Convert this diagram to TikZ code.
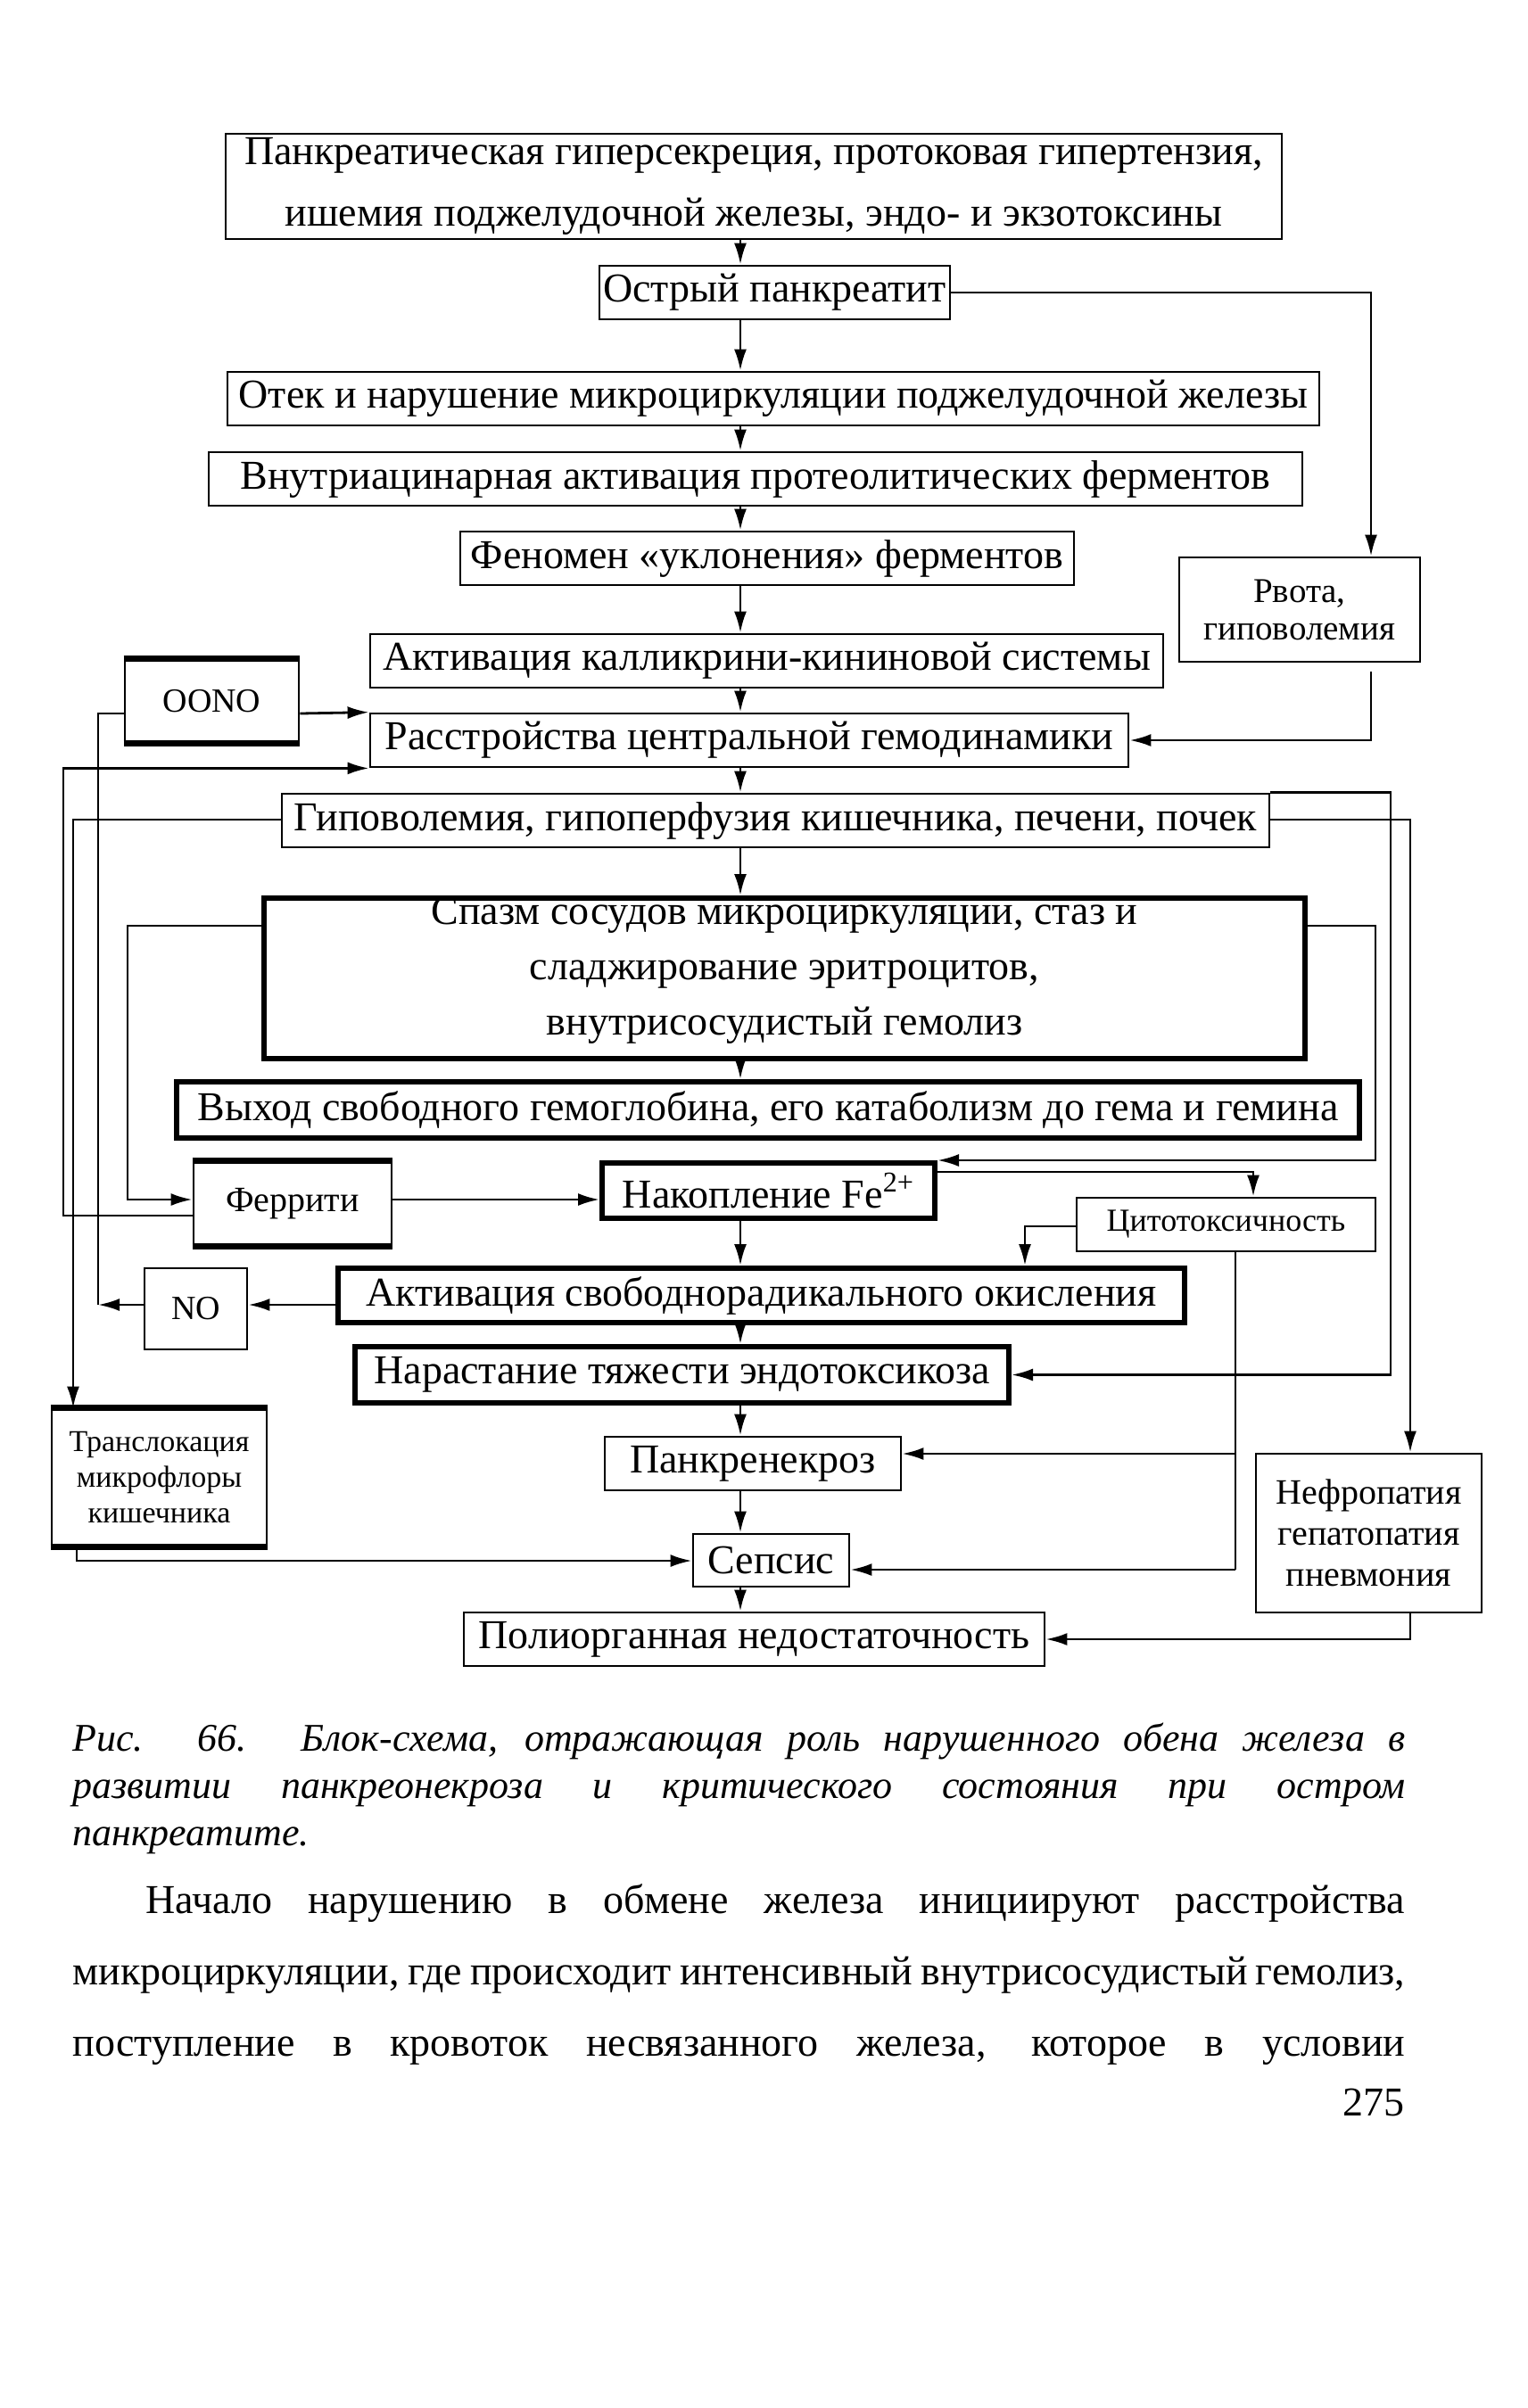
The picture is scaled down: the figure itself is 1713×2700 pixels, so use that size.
\documentclass[tikz,border=0pt]{standalone}
\usepackage{fontspec}
\setmainfont{Liberation Serif}
\usetikzlibrary{arrows.meta}
\newcommand\Bx[7]{%
  \pgfmathsetmacro\bxcx{(#3+#5)/2}\pgfmathsetmacro\bxcy{(#4+#6)/2}%
  \pgfmathsetmacro\bxw{(#5-#3)*0.5}\pgfmathsetmacro\bxh{(#6-#4)*0.5}%
  \node[#1, minimum width=\bxw pt, minimum height=\bxh pt] (#2) at (\bxcx,\bxcy) {#7};}
\newcommand\jline[1]{\makebox[747pt][s]{#1}}
\begin{document}
\begin{tikzpicture}[x=0.5pt,y=-0.5pt,
  box/.style={draw, line width=1.4pt, inner sep=0pt, align=center, font=\fontsize{23}{30}\selectfont},
  tbox/.style={box, line width=3pt},
  sbox/.style={box, font=\fontsize{19.5}{21}\selectfont},
  heavy/.style={line width=3.2pt},
  ln/.style={line width=1.4pt},
  arr/.style={line width=1.4pt, -{Latex[length=12pt,width=7pt]}}]
\fill[white] (0,0) rectangle (1713,2700);
\useasboundingbox (0,0) rectangle (1713,2700);
% boxes
\Bx{box, font=\fontsize{23}{34.5}\selectfont}{top}{253}{150}{1437}{268}{Панкреатическая гиперсекреция, протоковая гипертензия,\\ ишемия поджелудочной железы, эндо- и экзотоксины}
\Bx{box}{ostry}{672}{298}{1065}{358}{Острый панкреатит}
\Bx{box}{otek}{255}{417}{1479}{477}{Отек и нарушение микроциркуляции поджелудочной железы}
\Bx{box}{vnutr}{234}{507}{1460}{567}{Внутриацинарная активация протеолитических ферментов}
\Bx{box}{fenomen}{516}{596}{1204}{656}{Феномен «уклонения» ферментов}
\Bx{sbox}{rvota}{1322}{625}{1592}{742}{Рвота,\\ гиповолемия}
\Bx{box}{kalli}{415}{711}{1304}{771}{Активация калликрини-кининовой системы}
\Bx{sbox, font=\fontsize{19}{21}\selectfont}{oono}{140}{740}{335}{832}{OONO}
\Bx{box}{rasstr}{415}{800}{1265}{860}{Расстройства центральной гемодинамики}
\Bx{box}{gipo}{316}{890}{1423}{950}{Гиповолемия, гипоперфузия кишечника, печени, почек}
\Bx{tbox}{spazm}{296}{1007}{1463}{1187}{}
\node[align=center, inner sep=0pt, font=\fontsize{23}{31}\selectfont] (spazmtxt) at ([yshift=4.5pt]spazm.center) {Спазм сосудов микроциркуляции, стаз и\\ сладжирование эритроцитов,\\ внутрисосудистый гемолиз};
\Bx{tbox}{vyhod}{198}{1213}{1524}{1276}{Выход свободного гемоглобина, его катаболизм до гема и гемина}
\Bx{sbox, font=\fontsize{20}{21}\selectfont}{ferr}{217}{1303}{439}{1396}{Феррити}
\Bx{tbox}{nakop}{675}{1304}{1048}{1366}{Накопление Fe\textsuperscript{2+}}
\Bx{sbox, font=\fontsize{18}{21}\selectfont}{cyto}{1207}{1343}{1542}{1403}{Цитотоксичность}
\Bx{tbox}{aktsv}{379}{1422}{1328}{1483}{Активация свободнорадикального окисления}
\Bx{sbox, font=\fontsize{19}{21}\selectfont}{no}{162}{1422}{277}{1513}{NO}
\Bx{tbox}{narast}{398}{1510}{1131}{1573}{Нарастание тяжести эндотоксикоза}
\Bx{sbox, font=\fontsize{17}{20}\selectfont}{transl}{58}{1580}{299}{1733}{Транслокация\\ микрофлоры\\ кишечника}
\Bx{box}{pankr}{678}{1611}{1010}{1671}{Панкренекроз}
\Bx{sbox, font=\fontsize{20}{23}\selectfont}{nefro}{1408}{1630}{1661}{1808}{Нефропатия\\ гепатопатия\\ пневмония}
\Bx{box}{sepsis}{777}{1720}{952}{1779}{Сепсис}
\Bx{box}{poly}{520}{1808}{1171}{1868}{Полиорганная недостаточность}
% heavy top/bottom edges
\foreach \n in {oono,ferr,transl}{
  \draw[heavy] (\n.north west) -- (\n.north east);
  \draw[heavy] (\n.south west) -- (\n.south east);}
% coordinates
\coordinate (ax) at (830,0);
\coordinate (xr1) at (1537,0);
\coordinate (xr2) at (1559,0);
\coordinate (xr3) at (1581,0);
\coordinate (xr4) at (1542,0);
\coordinate (xc1) at (1405,0);
\coordinate (xc2) at (1149,0);
\coordinate (xc3) at (1385,0);
\coordinate (xl1) at (71,0);
\coordinate (xl2) at (82,0);
\coordinate (xl3) at (110,0);
\coordinate (xl4) at (143,0);
\coordinate (xl5) at (86,0);
\coordinate (yA) at (0,800);
\coordinate (yFe) at (0,1363);
\coordinate (yG) at (0,919);
\coordinate (yS) at (0,1038);
\coordinate (yF) at (0,1345);
\coordinate (yN) at (0,1314);
\coordinate (yC) at (0,1375);
\coordinate (yP) at (0,1630);
\coordinate (ySe) at (0,1760);
\coordinate (yNO) at (0,1463);
\coordinate (yT) at (0,1750);
% main axis
\foreach \a/\b in {top/ostry, ostry/otek, otek/vnutr, vnutr/fenomen, fenomen/kalli, kalli/rasstr, rasstr/gipo, gipo/spazm, spazm/vyhod, nakop/aktsv, aktsv/narast, narast/pankr, pankr/sepsis, sepsis/poly}
  \draw[arr] (\a.south -| ax) -- (\b.north -| ax);
% side connectors
\draw[arr] (ostry.east) -| (rvota.north -| xr1);
\draw[arr] (rvota.south -| xr1) ++(0,10) |- (rasstr.east);
\draw[arr] (oono.east |- yA) -- (rasstr.north west);
\draw[arr] (ferr.west |- yFe) -| (xl1 |- rasstr.south) -- (rasstr.south west);
\draw[arr] (gipo.west |- yG) -| (transl.north -| xl2);
\draw[arr] (gipo.north east) -| (xr2 |- narast.east) -- (narast.east);
\draw[arr] (gipo.east |- yG) -| (nefro.north -| xr3);
\draw[arr] (spazm.west |- yS) -| (xl4 |- yF) -- (ferr.west |- yF);
\draw[arr] (ferr.east |- yF) -- (nakop.west |- yF);
\draw[arr] (spazm.east |- yS) -| (xr4 |- nakop.north) -- (nakop.north east);
\draw[arr] (nakop.east |- yN) -| (cyto.north -| xc1);
\draw[arr] (cyto.west |- yC) -| (aktsv.north -| xc2);
\draw[ln] (cyto.south -| xc3) -- (xc3 |- ySe);
\draw[arr] (xc3 |- yP) -- (pankr.east |- yP);
\draw[arr] (xc3 |- ySe) -- (sepsis.east |- ySe);
\draw[arr] (aktsv.west |- yNO) -- (no.east |- yNO);
\draw[arr] (no.west |- yNO) -- (xl3 |- yNO);
\draw[ln] (xl3 |- yNO) |- (oono.west |- yA);
\draw[arr] (transl.south -| xl5) |- (sepsis.west |- yT);
\draw[arr] (nefro.south -| xr3) |- (poly.east);
% caption and text
\node[anchor=north west, inner sep=0pt, align=left,
  font=\itshape\fontsize{22}{26.5}\selectfont] (cap) at (81,1932)
  {\jline{Рис. 66. Блок-схема, отражающая роль нарушенного обена железа в}\\
   \jline{развитии панкреонекроза и критического состояния при остром}\\
   панкреатите.};
\node[anchor=north west, inner sep=0pt, align=left,
  font=\fontsize{23}{40}\selectfont] (body) at (81,2112)
  {\jline{\hspace*{41pt}Начало нарушению в обмене железа инициируют расстройства}\\
   \jline{микроциркуляции, где происходит интенсивный внутрисосудистый гемолиз,}\\
   \jline{поступление в кровоток несвязанного железа, которое в условии}};
\node[anchor=base east, inner sep=0pt, font=\fontsize{23}{26}\selectfont] (pnum) at (1575,2372) {275};
\end{tikzpicture}
\end{document}
